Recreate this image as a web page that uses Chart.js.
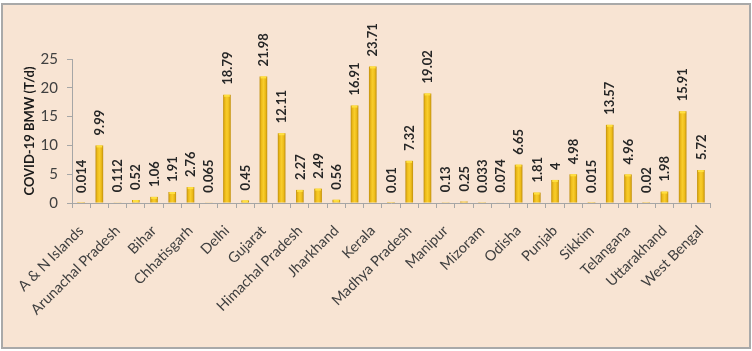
<!DOCTYPE html>
<html>
<head>
<meta charset="utf-8">
<script src="https://cdn.jsdelivr.net/npm/chart.js@4.4.0/dist/chart.umd.min.js"></script>
<style>
  html, body { margin: 0; padding: 0; background: #ffffff; }
  #frame {
    position: absolute; left: 1px; top: 3px; width: 746px; height: 342px;
    border: 2px solid #a9a9a9; background: #f8e4d3;
  }
  #wrap { position: absolute; left: 0; top: 0; width: 752px; height: 351px; }
</style>
</head>
<body>
<div id="frame"></div>
<div id="wrap"><canvas id="chart" width="752" height="351"></canvas></div>
<script>
// states / UTs, in the order of the figure
const states = [
  "A & N Islands", "Andhra Pradesh", "Arunachal Pradesh", "Assam", "Bihar",
  "Chandigarh", "Chhatisgarh", "D & N Haveli", "Delhi", "Goa",
  "Gujarat", "Haryana", "Himachal Pradesh", "J & K", "Jharkhand",
  "Karnataka", "Kerala", "Lakshadweep", "Madhya Pradesh", "Maharashtra",
  "Manipur", "Meghalaya", "Mizoram", "Nagaland", "Odisha",
  "Puducherry", "Punjab", "Rajasthan", "Sikkim", "Tamil Nadu",
  "Telangana", "Tripura", "Uttarakhand", "Uttar Pradesh", "West Bengal"
];
const bmw = [
  0.014, 9.99, 0.112, 0.52, 1.06,
  1.91, 2.76, 0.065, 18.79, 0.45,
  21.98, 12.11, 2.27, 2.49, 0.56,
  16.91, 23.71, 0.01, 7.32, 19.02,
  0.13, 0.25, 0.033, 0.074, 6.65,
  1.81, 4, 4.98, 0.015, 13.57,
  4.96, 0.02, 1.98, 15.91, 5.72
];
const yTicks = [0, 5, 10, 15, 20, 25];

const textColor = "#404040";
const axisColor = "#a6a6a6";
const fontName = "Lato, 'Open Sans', sans-serif";

// gold bars with darker edges, like the office 3d look
const barShade = {
  id: "barShade",
  beforeDatasetsDraw(chart) {
    const ctx = chart.ctx;
    chart.getDatasetMeta(0).data.forEach((bar) => {
      const w = bar.width;
      const g = ctx.createLinearGradient(bar.x - w / 2, 0, bar.x + w / 2, 0);
      g.addColorStop(0, "#c08f0c");
      g.addColorStop(0.25, "#eebc1a");
      g.addColorStop(0.5, "#f8cd2c");
      g.addColorStop(0.75, "#eebc1a");
      g.addColorStop(1, "#c08f0c");
      bar.options.backgroundColor = g;
    });
  },
  afterDatasetsDraw(chart) {
    const ctx = chart.ctx;
    ctx.save();
    chart.getDatasetMeta(0).data.forEach((bar) => {
      const h = bar.base - bar.y;
      if (h < 2) return;
      ctx.fillStyle = "#ffe040";
      ctx.fillRect(bar.x - bar.width / 2 + 1, bar.y, bar.width - 2, Math.min(2, h));
    });
    ctx.restore();
  }
};

// vertical value labels above the bars
const valueLabels = {
  id: "valueLabels",
  afterDatasetsDraw(chart) {
    const ctx = chart.ctx;
    ctx.save();
    ctx.font = "bold 13px " + fontName;
    ctx.fillStyle = "#262626";
    ctx.textAlign = "left";
    ctx.textBaseline = "middle";
    chart.getDatasetMeta(0).data.forEach((bar, i) => {
      ctx.save();
      ctx.translate(bar.x + 0.5, bar.y - 10);
      ctx.rotate(-Math.PI / 2);
      ctx.fillText(String(bmw[i]), 0, 0);
      ctx.restore();
    });
    ctx.restore();
  }
};

new Chart(document.getElementById("chart"), {
  type: "bar",
  data: {
    labels: states,
    datasets: [{
      data: bmw,
      // scriptable so that every bar keeps its own options object
      backgroundColor: () => "#eebc1a",
      barPercentage: 0.42,
      categoryPercentage: 1
    }]
  },
  plugins: [barShade, valueLabels],
  options: {
    responsive: false,
    animation: false,
    layout: { padding: { left: 10, right: 42, top: 59, bottom: 6 } },
    plugins: { legend: { display: false }, tooltip: { enabled: false } },
    scales: {
      x: {
        grid: { display: true, drawOnChartArea: false, drawTicks: true, tickLength: 5, color: axisColor, offset: true },
        border: { color: axisColor, width: 1 },
        ticks: {
          autoSkip: false,
          maxRotation: 45,
          minRotation: 45,
          color: textColor,
          font: { family: fontName, size: 14.5 },
          padding: 14,
          callback: (v, i) => (i % 2 === 0 ? states[i] : "")
        },
        afterFit(scale) { scale.height = 142; }
      },
      y: {
        min: 0,
        max: 25,
        afterBuildTicks(scale) { scale.ticks = yTicks.map((v) => ({ value: v })); },
        grid: { display: true, drawOnChartArea: false, drawTicks: true, tickLength: 5, color: axisColor },
        border: { color: axisColor, width: 1 },
        ticks: {
          color: textColor,
          font: { family: fontName, size: 15 },
          padding: 9
        },
        title: {
          display: true,
          text: "COVID-19 BMW (T/d)",
          color: "#1a1a1a",
          font: { family: fontName, size: 13, weight: "bold" },
          padding: { top: 12, bottom: 0 }
        },
        afterFit(scale) { scale.width = 62; }
      }
    }
  }
});
</script>
</body>
</html>
